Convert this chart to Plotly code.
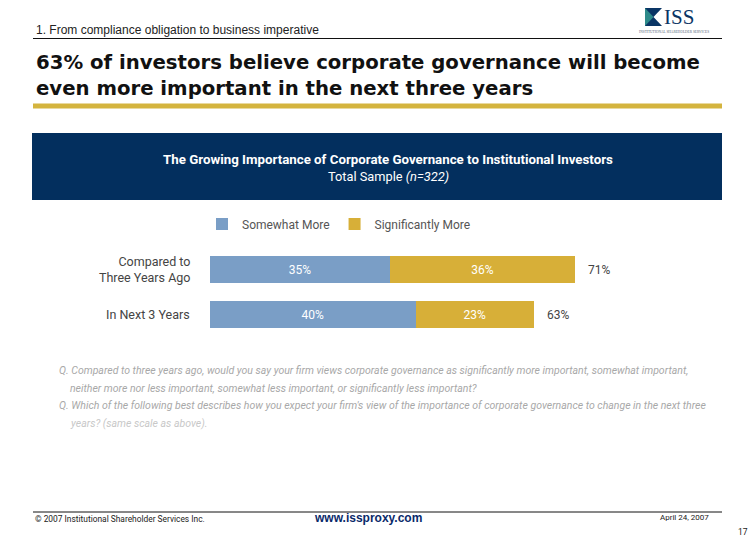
import plotly.graph_objects as go

W, H = 756, 540

categories = ["Compared to<br>Three Years Ago", "In Next 3 Years"]
somewhat_more = [35, 40]
significantly_more = [36, 23]
series_names = ["Somewhat More", "Significantly More"]

BLUE = "#7A9EC6"
GOLD = "#D7AF38"
NAVY = "#032F5E"

def px(x):
    return x / W

def py(y):
    return 1 - y / H

NARROW = "Liberation Sans Narrow, Arial Narrow, Roboto, sans-serif"

fig = go.Figure()
fig.add_trace(go.Bar(
    y=categories, x=somewhat_more, name=series_names[0], orientation="h",
    marker=dict(color=BLUE, line=dict(width=0)),
    text=[f"{v}%" for v in somewhat_more], textposition="inside",
    insidetextanchor="middle",
    textfont=dict(color="white", size=12, family=NARROW),
))
fig.add_trace(go.Bar(
    y=categories, x=significantly_more, name=series_names[1], orientation="h",
    marker=dict(color=GOLD, line=dict(width=0)),
    text=[f"{v}%" for v in significantly_more], textposition="inside",
    insidetextanchor="middle",
    textfont=dict(color="white", size=12, family=NARROW),
))

annotations = []
# totals
for c, a, b in zip(categories, somewhat_more, significantly_more):
    annotations.append(dict(x=a + b, y=c, xref="x", yref="y", text=f"{a + b}%",
                            showarrow=False, xanchor="left", xshift=11,
                            font=dict(size=12, color="#444444", family=NARROW)))
# category labels
for c in categories:
    annotations.append(dict(x=px(192), y=c, xref="paper", yref="y", text=c,
                            showarrow=False, xanchor="right", align="right",
                            font=dict(size=12.5, color="#444444", family=NARROW)))

# header
annotations += [
    dict(x=px(34), y=py(30), xref="paper", yref="paper", xanchor="left", yanchor="middle",
         text="1. From compliance obligation to business imperative", showarrow=False,
         font=dict(size=12, color="#222222", family="Liberation Sans Narrow, Liberation Sans, Arial")),
    dict(x=px(34), y=py(62), xref="paper", yref="paper", xanchor="left", yanchor="middle",
         text="<b>63% of investors believe corporate governance will become</b>", showarrow=False,
         font=dict(size=19.7, color="#111111", family="DejaVu Sans, Verdana")),
    dict(x=px(34), y=py(89), xref="paper", yref="paper", xanchor="left", yanchor="middle",
         text="<b>even more important in the next three years</b>", showarrow=False,
         font=dict(size=19.7, color="#111111", family="DejaVu Sans, Verdana")),
    # logo text
    dict(x=px(662), y=py(17), xref="paper", yref="paper", xanchor="left", yanchor="middle",
         text="ISS", showarrow=False,
         font=dict(size=21, color="#0A3565", family="Liberation Serif, Times New Roman")),
    dict(x=px(674), y=py(32), xref="paper", yref="paper", xanchor="center", yanchor="middle",
         text="INSTITUTIONAL SHAREHOLDER SERVICES", showarrow=False,
         font=dict(size=3.5, color="#556677", family="Liberation Serif")),
    # box title
    dict(x=px(388), y=py(159), xref="paper", yref="paper", xanchor="center", yanchor="middle",
         text="<b>The Growing Importance of Corporate Governance to Institutional Investors</b>",
         showarrow=False, font=dict(size=13.3, color="white", family=NARROW)),
    dict(x=px(388), y=py(176), xref="paper", yref="paper", xanchor="center", yanchor="middle",
         text="Total Sample <i>(n=322)</i>",
         showarrow=False, font=dict(size=12.8, color="white", family=NARROW)),
    # notes
    dict(x=px(57), y=py(370), xref="paper", yref="paper", xanchor="left", yanchor="middle",
         text="<i>Q. Compared to three years ago, would you say your firm views corporate governance as significantly more important, somewhat important,</i>",
         showarrow=False, font=dict(size=10.5, color="#A8A8A8", family=NARROW)),
    dict(x=px(68), y=py(388), xref="paper", yref="paper", xanchor="left", yanchor="middle",
         text="<i>neither more nor less important, somewhat less important, or significantly less important?</i>",
         showarrow=False, font=dict(size=10.5, color="#A8A8A8", family=NARROW)),
    dict(x=px(57), y=py(405), xref="paper", yref="paper", xanchor="left", yanchor="middle",
         text="<i>Q. Which of the following best describes how you expect your firm's view of the importance of corporate governance to change in the next three</i>",
         showarrow=False, font=dict(size=10.5, color="#A8A8A8", family=NARROW)),
    dict(x=px(68), y=py(423), xref="paper", yref="paper", xanchor="left", yanchor="middle",
         text="<i>years? (same scale as above).</i>",
         showarrow=False, font=dict(size=10.5, color="#C8C8C8", family=NARROW)),
    # footer
    dict(x=px(33), y=py(519), xref="paper", yref="paper", xanchor="left", yanchor="middle",
         text="© 2007 Institutional Shareholder Services Inc.", showarrow=False,
         font=dict(size=8.4, color="#222222", family=NARROW)),
    dict(x=px(368), y=py(518), xref="paper", yref="paper", xanchor="center", yanchor="middle",
         text="<b>www.issproxy.com</b>", showarrow=False,
         font=dict(size=12, color="#0A2A6A", family="Liberation Sans, Arial")),
    dict(x=px(711), y=py(517), xref="paper", yref="paper", xanchor="right", yanchor="middle",
         text="April 24, 2007", showarrow=False,
         font=dict(size=8, color="#222222", family=NARROW)),
    dict(x=px(750), y=py(532), xref="paper", yref="paper", xanchor="right", yanchor="middle",
         text="17", showarrow=False,
         font=dict(size=8.5, color="#222222", family=NARROW)),
]

shapes = [
    # header rule
    dict(type="line", xref="paper", yref="paper", x0=px(33), x1=px(722), y0=py(38.5), y1=py(38.5),
         line=dict(color="#111111", width=1)),
    # gold bar under title
    dict(type="rect", xref="paper", yref="paper", x0=px(33), x1=px(722), y0=py(108.5), y1=py(103.5),
         fillcolor="#D4B43E", line=dict(width=0)),
    # navy box
    dict(type="rect", xref="paper", yref="paper", x0=px(32), x1=px(722), y0=py(200), y1=py(133),
         fillcolor=NAVY, line=dict(width=0), layer="below"),
    # logo square
    dict(type="rect", xref="paper", yref="paper", x0=px(645), x1=px(662), y0=py(26), y1=py(8),
         fillcolor="#0A3565", line=dict(width=0)),
    dict(type="path", xref="paper", yref="paper",
         path=f"M {px(645)} {py(8)} L {px(653.5)} {py(17)} L {px(645)} {py(26)} Z",
         fillcolor="#2E8A8A", line=dict(width=0)),
    dict(type="path", xref="paper", yref="paper",
         path=f"M {px(662)} {py(8)} L {px(653.5)} {py(17)} L {px(662)} {py(26)} Z",
         fillcolor="#FFFFFF", line=dict(width=0)),
    # footer rule
    dict(type="line", xref="paper", yref="paper", x0=px(33), x1=px(722), y0=py(512), y1=py(512),
         line=dict(color="#111111", width=1)),
]

fig.update_layout(
    width=W, height=H,
    margin=dict(l=0, r=0, t=0, b=0),
    paper_bgcolor="white", plot_bgcolor="white",
    barmode="stack", bargap=0.4,
    showlegend=True,
    legend=dict(orientation="h", x=px(339), xanchor="center", y=py(224), yanchor="middle",
                font=dict(size=12, color="#555555", family=NARROW),
                itemwidth=30, traceorder="normal", bgcolor="rgba(0,0,0,0)",
                itemclick=False),
    xaxis=dict(domain=[px(210), px(724)], range=[0, 100], visible=False, fixedrange=True),
    yaxis=dict(domain=[py(337), py(247)], range=[1.5, -0.5], visible=False, fixedrange=True,
               type="category"),
    annotations=annotations,
    shapes=shapes,
    uniformtext=dict(mode="show", minsize=8),
)

fig.write_html("out.html", config={"displayModeBar": False},
               post_script="document.body.style.margin='0';document.body.style.overflow='hidden';")
